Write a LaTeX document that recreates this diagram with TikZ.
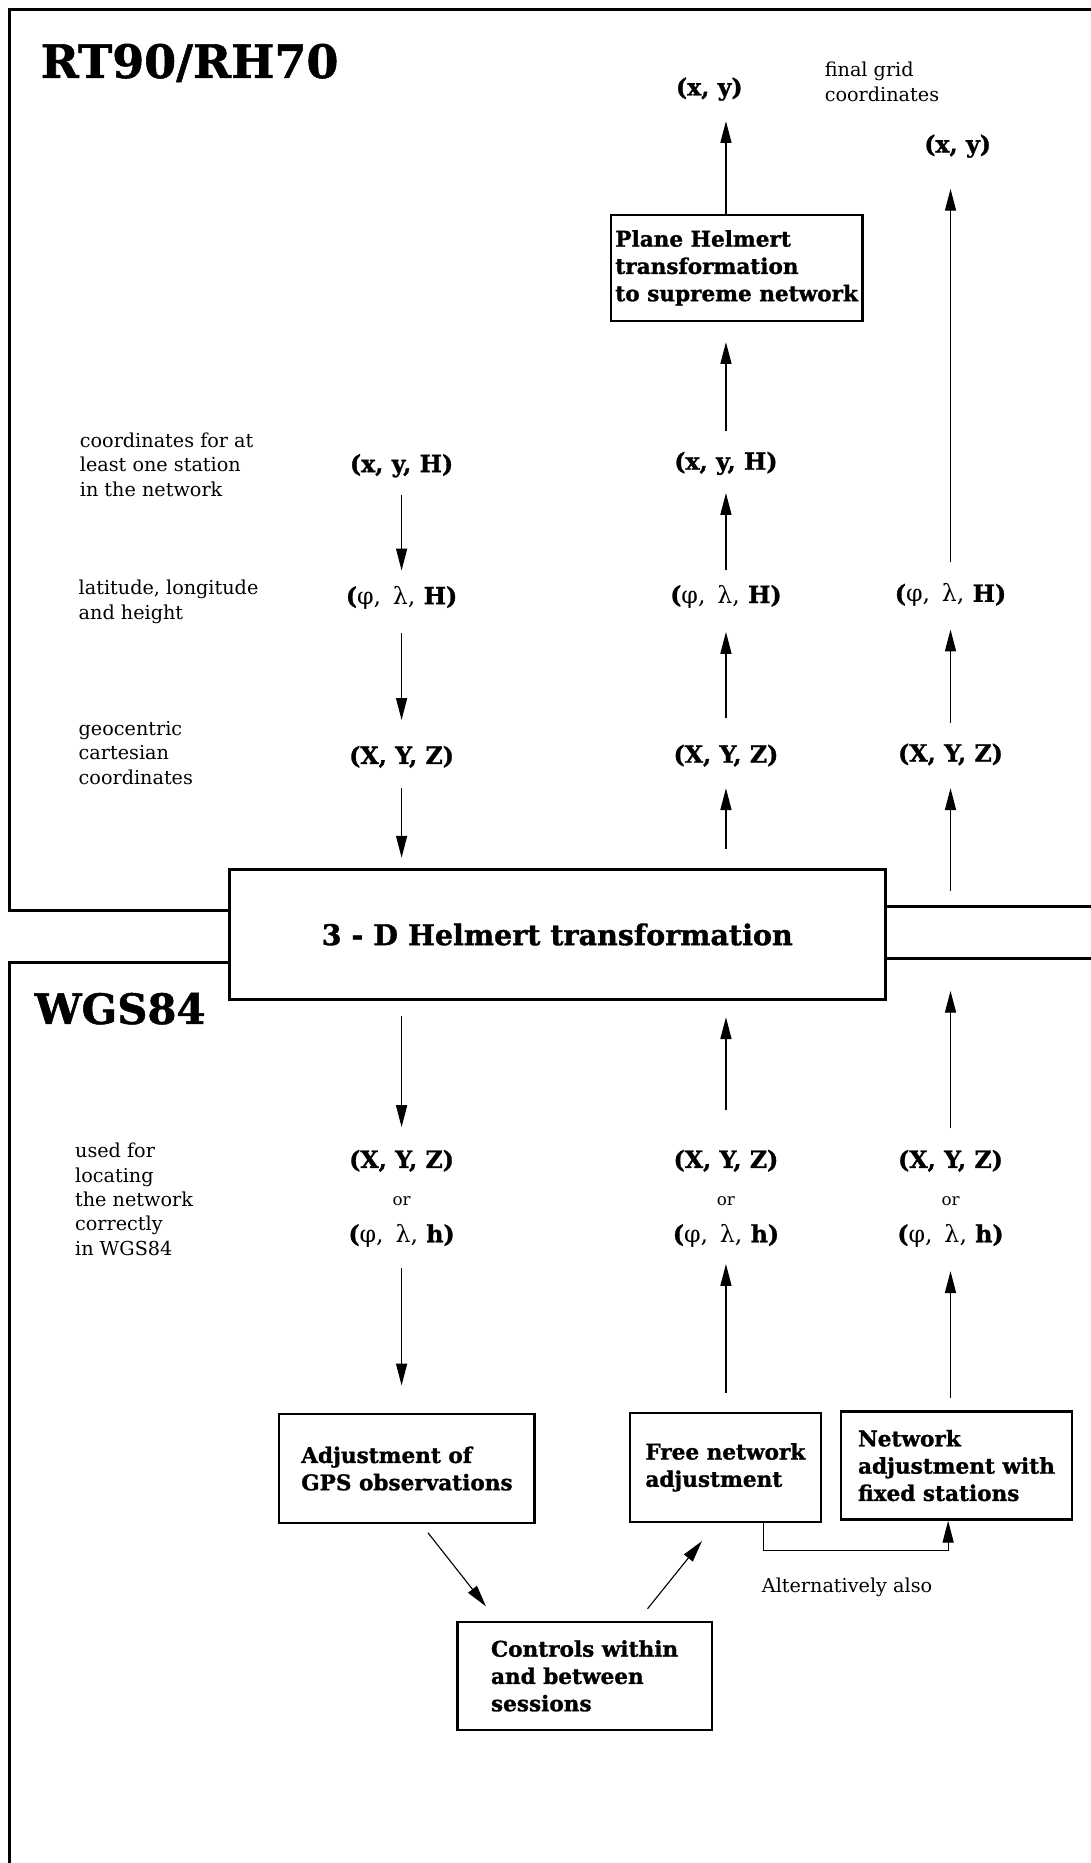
\documentclass[tikz,border=0pt]{standalone}
\usepackage{fontspec}
\setmainfont{DejaVu Serif}[BoldFeatures={FakeBold=1.2}]
\usetikzlibrary{arrows.meta}

\begin{document}
\begin{tikzpicture}[x=0.03cm, y=-0.03cm,
    frame/.style={line width=2.2pt},
    procbox/.style={draw, line width=1.7pt, align=left, inner sep=0pt,
      font=\fontsize{15.5}{19.6}\selectfont\bfseries},
    crd/.style={inner sep=0pt, font=\fontsize{17}{20}\selectfont\bfseries},
    orlbl/.style={inner sep=0pt, font=\fontsize{12}{14}\selectfont},
    note/.style={anchor=north west, align=left, inner sep=0pt,
      font=\fontsize{13.8}{17.5}\selectfont},
    flow/.style={-{Triangle[length=5.5mm, width=2.8mm]}, line width=0.8pt}]
  \useasboundingbox (0,0) rectangle (918,1568);
  % frames of the two systems
  \draw[frame] (918,8) -- (8,8) -- (8,766) -- (193,766);
  \draw[frame] (745,763) -- (918,763);
  \draw[frame] (193,810) -- (8,810) -- (8,1568);
  \draw[frame] (745,807) -- (918,807);
  \node[anchor=west, inner sep=0pt, font=\fontsize{33}{36}\selectfont\bfseries] (rt) at (34,53) {RT90/RH70};
  \node[anchor=west, inner sep=0pt, font=\fontsize{30}{34}\selectfont\bfseries] (wgs) at (29,849) {WGS84};
  % boxes
  \node[procbox, line width=2pt, minimum width=16.56cm, minimum height=3.27cm,
    font=\fontsize{20.5}{24}\selectfont\bfseries] (helm) at (469,786.5) {3 - D Helmert transformation};
  \node[procbox, minimum width=6.36cm, minimum height=2.67cm] (plane) at (620,225.5)
    {Plane Helmert\\transformation\\to supreme network};
  \node[procbox, minimum width=6.45cm, minimum height=2.76cm] (adjust) at (342.5,1236)
    {Adjustment of\\GPS observations};
  \node[procbox, minimum width=4.83cm, minimum height=2.76cm] (free) at (610.5,1235)
    {Free network\\adjustment};
  \node[procbox, minimum width=5.82cm, minimum height=2.73cm] (network) at (805,1233.5)
    {Network\\adjustment with\\fixed stations};
  \node[procbox, minimum width=6.42cm, minimum height=2.73cm] (controls) at (492,1410.5)
    {Controls within\\and between\\sessions};
  % side notes
  \node[note] (n1) at (694,52) {final grid\\coordinates};
  \node[note] (n2) at (67,364) {coordinates for at\\least one station\\in the network};
  \node[note] (n3) at (66,488) {latitude, longitude\\and height};
  \node[note] (n4) at (66,607) {geocentric\\cartesian\\coordinates};
  \node[note] (n5) at (63,962) {used for\\locating\\the network\\correctly\\in WGS84};
  \node[note, anchor=west] (alt) at (641,1336) {Alternatively also};
  % coordinates, RT90/RH70
  \node[crd] (c1xyH) at (338,392) {(x, y, H)};
  \node[crd] (c1plH) at (338,503) {({\mdseries φ,\enspace λ,} H)};
  \node[crd] (c1XYZ) at (338,637) {(X, Y, Z)};
  \node[crd] (c2xy) at (597,75) {(x, y)};
  \node[crd] (c2xyH) at (611,390) {(x, y, H)};
  \node[crd] (c2plH) at (611,502) {({\mdseries φ,\enspace λ,} H)};
  \node[crd] (c2XYZ) at (611,636) {(X, Y, Z)};
  \node[crd] (c3xy) at (806,123) {(x, y)};
  \node[crd] (c3plH) at (800,501) {({\mdseries φ,\enspace λ,} H)};
  \node[crd] (c3XYZ) at (800,635) {(X, Y, Z)};
  % coordinates, WGS84
  \foreach \c/\x in {1/338, 2/611, 3/800} {
    \node[crd] (b\c XYZ) at (\x,977) {(X, Y, Z)};
    \node[orlbl] (b\c or) at (\x,1011) {or};
    \node[crd] (b\c plh) at (\x,1040) {({\mdseries φ,\enspace λ,} h)};
  }
  \coordinate (up3) at (800,750);
  \coordinate (dn3) at (800,834);
  % left column, down
  \draw[flow, shorten <=0.45cm, shorten >=0.39cm] (c1xyH) -- (c1plH);
  \draw[flow, shorten <=0.6cm, shorten >=0.65cm] (c1plH) -- (c1XYZ);
  \draw[flow, shorten <=0.51cm, shorten >=0.27cm] (c1XYZ) -- (helm.north -| c1XYZ);
  \draw[flow, shorten <=0.39cm, shorten >=0.57cm] (helm.south -| b1XYZ) -- (b1XYZ);
  \draw[flow, shorten <=0.51cm, shorten >=0.69cm] (b1plh) -- (adjust.north -| b1plh);
  % middle column, up
  \draw[flow, shorten <=0.48cm, shorten >=0.42cm] (free.north -| b2plh) -- (b2plh);
  \draw[flow, shorten <=0.99cm, shorten >=0.42cm] (b2XYZ) -- (helm.south -| b2XYZ);
  \draw[flow, shorten <=0.5cm, shorten >=0.54cm] (helm.north -| c2XYZ) -- (c2XYZ);
  \draw[flow, shorten <=0.66cm, shorten >=0.6cm] (c2XYZ) -- (c2plH);
  \draw[flow, shorten <=0.36cm, shorten >=0.45cm] (c2plH) -- (c2xyH);
  \draw[flow, shorten <=0.51cm, shorten >=0.51cm] (c2xyH) -- (plane.south -| c2xyH);
  \draw[flow, shorten >=0.51cm] (plane.north -| c2xyH) -- (c2xy.south -| c2xyH);
  % right column, up
  \draw[flow, shorten <=0.3cm, shorten >=0.6cm] (network.north -| b3plh) -- (b3plh);
  \draw[flow, shorten <=0.54cm] (b3XYZ) -- (dn3);
  \draw[flow, shorten >=0.57cm] (up3) -- (c3XYZ);
  \draw[flow, shorten <=0.51cm, shorten >=0.57cm] (c3XYZ) -- (c3plH);
  \draw[flow, shorten <=0.54cm, shorten >=0.78cm] (c3plH) -- (c3xy.south -| c3plH);
  % adjustment loop
  \draw[flow] ([xshift=0.53cm, yshift=-0.21cm]adjust.south) -- ([xshift=-2.49cm, yshift=0.36cm]controls.north);
  \draw[flow] ([xshift=1.59cm, yshift=0.3cm]controls.north) -- ([xshift=-0.59cm, yshift=-0.45cm]free.south);
  \draw[flow] ([xshift=0.96cm]free.south) -- ++(0,23) -| ([xshift=-0.21cm]network.south);
\end{tikzpicture}
\end{document}
